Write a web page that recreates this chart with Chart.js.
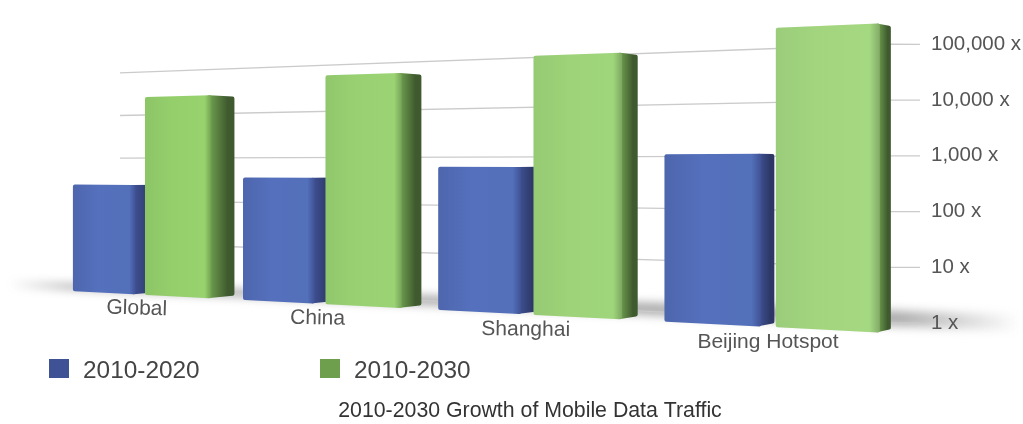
<!DOCTYPE html>
<html>
<head>
<meta charset="utf-8">
<script src="https://cdn.jsdelivr.net/npm/chart.js@4"></script>
<style>
  body { margin: 0; background: #fff; }
  canvas { display: block; }
</style>
</head>
<body>
<canvas id="chart1" width="1023" height="424"></canvas>
<script>
const categories = ['Global', 'China', 'Shanghai', 'Beijing Hotspot'];
const growth2020 = [250, 376, 630, 1075];
const growth2030 = [21000, 46000, 79400, 170000];
const yTicks = [1, 10, 100, 1000, 10000, 100000];

const TEXT = '"Liberation Sans", Arial, sans-serif';
const HORIZON = 165.5;

// perspective helpers: everything recedes towards a point far off to the left
const depth = (x) => (x + 2373) / 3263;
const sx = (u, area) => {
  const t = (u - area.left) / area.width - 0.007;
  return (615.6 * t + 63.4) / (1 - 0.256 * t);
};
const onWall = (x, py) => HORIZON + (py - HORIZON) * depth(x);
const onFront = (x, py) => HORIZON + (py - HORIZON) * 1.064 * depth(x);
const toBack = (p) => ({
  x: p.x + (1490 - p.x) * 0.018,
  y: HORIZON + (p.y - HORIZON) * 0.98,
});

const barColors = [
  { stops: ['#4d66ad', '#5570bd', '#5370ba', '#3f5193'], side: ['#3f5193', '#2c3766'], sheen: 0 },
  { stops: ['#8cc566', '#95cf6c', '#97d26e', '#6f9f50'], side: ['#6f9f50', '#3f5a2e'], sheen: 0.045 },
];

function roundedPoly(ctx, pts, r) {
  const n = pts.length;
  ctx.beginPath();
  ctx.moveTo((pts[0].x + pts[n - 1].x) / 2, (pts[0].y + pts[n - 1].y) / 2);
  for (let i = 0; i < n; i++) {
    const a = pts[i];
    const b = pts[(i + 1) % n];
    ctx.arcTo(a.x, a.y, b.x, b.y, r);
  }
  ctx.closePath();
}

function drawBar(ctx, el, index, area, colors) {
  const xl = sx(el.x - el.width / 2, area);
  const xr = sx(el.x + el.width / 2, area);
  const tl = { x: xl, y: onFront(xl, el.y) };
  const tr = { x: xr, y: onFront(xr, el.y) };
  const br = { x: xr, y: onFront(xr, el.base) };
  const bl = { x: xl, y: onFront(xl, el.base) };
  const tb = toBack(tr);
  const bb = toBack(br);

  const sg = ctx.createLinearGradient(xr - 2, 0, tb.x - (tb.x - xr) * 0.3, 0);
  sg.addColorStop(0, colors.side[0]);
  sg.addColorStop(1, colors.side[1]);
  ctx.fillStyle = sg;
  roundedPoly(ctx, [{ x: tr.x - 4, y: tr.y }, tb, bb, { x: br.x - 4, y: br.y }], 2);
  ctx.fill();

  const fg = ctx.createLinearGradient(xl, 0, xr, 0);
  fg.addColorStop(0, colors.stops[0]);
  fg.addColorStop(0.4, colors.stops[1]);
  fg.addColorStop(0.9, colors.stops[2]);
  fg.addColorStop(1, colors.stops[3]);
  ctx.fillStyle = fg;
  roundedPoly(ctx, [tl, tr, br, bl], 2);
  ctx.fill();

  // nearer bars catch a little more light
  if (colors.sheen) {
    ctx.fillStyle = `rgba(255,255,255,${colors.sheen * index})`;
    ctx.fill();
  }
}

const perspectivePlugin = {
  id: 'perspective',
  afterLayout(chart) {
    // the caption sits right of the canvas centre
    chart.titleBlock.left += 18.5;
    chart.titleBlock.right += 18.5;
  },
  beforeDatasetsDraw(chart) {
    const { ctx, chartArea, scales } = chart;
    const floor = scales.y.getPixelForValue(1);

    // floor shadow behind the bars
    ctx.save();
    ctx.filter = 'blur(5px)';
    const sg = ctx.createLinearGradient(8, 0, 1020, 0);
    sg.addColorStop(0, 'rgba(90,90,90,0)');
    sg.addColorStop(0.06, 'rgba(90,90,90,0.55)');
    sg.addColorStop(0.88, 'rgba(90,90,90,0.5)');
    sg.addColorStop(1, 'rgba(90,90,90,0)');
    ctx.fillStyle = sg;
    ctx.beginPath();
    ctx.moveTo(12, onWall(12, floor + 2));
    ctx.lineTo(1018, onWall(1018, floor - 14));
    ctx.lineTo(1018, onWall(1018, floor + 2));
    ctx.lineTo(12, onWall(12, floor + 8));
    ctx.closePath();
    ctx.fill();
    ctx.restore();

    // grid lines run up the back wall, then out to the axis labels
    ctx.save();
    ctx.strokeStyle = '#cbcbcb';
    ctx.lineWidth = 1.3;
    scales.y.ticks.forEach((tick) => {
      const py = scales.y.getPixelForValue(tick.value);
      ctx.beginPath();
      ctx.moveTo(120, onWall(120, py));
      ctx.lineTo(chartArea.right, onWall(chartArea.right, py));
      ctx.lineTo(920, py);
      ctx.stroke();
    });
    ctx.restore();

    // blue first so each green bar sits on top of its neighbour's side face
    chart.data.datasets.forEach((ds, d) => {
      chart.getDatasetMeta(d).data.forEach((el, i) => drawBar(ctx, el, i, chartArea, barColors[d]));
    });
  },
  beforeDatasetDraw() {
    return false;
  },
  afterDraw(chart) {
    const { ctx, chartArea, scales } = chart;
    const floor = scales.y.getPixelForValue(1);

    // category names follow the floor line
    ctx.save();
    ctx.font = '21px ' + TEXT;
    ctx.fillStyle = '#555';
    ctx.textAlign = 'center';
    ctx.textBaseline = 'middle';
    scales.x.getLabels().forEach((label, i) => {
      const u = scales.x.getPixelForTick(i);
      const x = sx(u, chartArea);
      ctx.save();
      ctx.translate(x - 3.5 + i, onFront(x, floor) + 14 + i * 0.6);
      ctx.rotate(0.03 * (1 - i / 3));
      ctx.fillText(label, 0, 0);
      ctx.restore();
    });
    ctx.restore();

    // legend row
    ctx.save();
    ctx.font = '24.4px ' + TEXT;
    ctx.textBaseline = 'middle';
    chart.data.datasets.forEach((ds, i) => {
      const x = 49 + i * 271;
      ctx.fillStyle = ds.backgroundColor;
      ctx.fillRect(x, 359, 20, 19);
      ctx.fillStyle = '#444';
      ctx.fillText(ds.label, x + 34, 371);
    });
    ctx.restore();
  },
};

new Chart(document.getElementById('chart1').getContext('2d'), {
  type: 'bar',
  data: {
    labels: categories,
    datasets: [
      { label: '2010-2020', data: growth2020, backgroundColor: '#3f5296' },
      { label: '2010-2030', data: growth2030, backgroundColor: '#6d9f4c' },
    ],
  },
  options: {
    responsive: false,
    animation: false,
    categoryPercentage: 0.88,
    barPercentage: 0.873,
    layout: { padding: { top: 34.5, left: 0, right: 0, bottom: 0 } },
    plugins: {
      legend: { display: false },
      tooltip: { enabled: false },
      title: {
        display: true,
        position: 'bottom',
        text: '2010-2030 Growth of Mobile Data Traffic',
        color: '#333',
        font: { family: TEXT, size: 21.3, weight: 'normal' },
        padding: { top: 75.4, bottom: 0 },
      },
    },
    scales: {
      x: { display: false },
      y: {
        type: 'logarithmic',
        position: 'right',
        min: 1,
        max: 100000,
        border: { display: false },
        grid: { display: false },
        afterBuildTicks(axis) {
          axis.ticks = yTicks.map((value) => ({ value }));
        },
        afterFit(axis) {
          axis.width = 132;
        },
        ticks: {
          autoSkip: false,
          padding: 32,
          color: '#555',
          font: { family: TEXT, size: 20.5 },
          callback: (v) => Number(v).toLocaleString('en-US') + ' x',
        },
      },
    },
  },
  plugins: [perspectivePlugin],
});
</script>
</body>
</html>
